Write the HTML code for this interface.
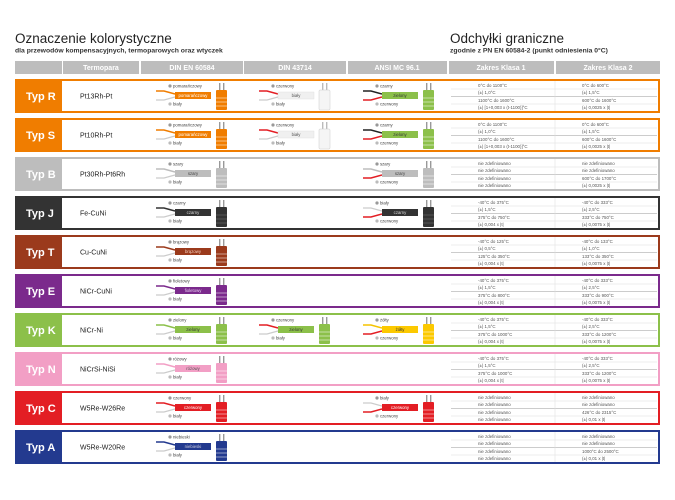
<!DOCTYPE html>
<html><head><meta charset="utf-8"><style>
body{margin:0;background:#fff}
svg{display:block;font-family:"Liberation Sans",sans-serif}
.s{font-size:4.3px;fill:#444}
.b{font-size:4.3px;text-anchor:middle}
.l{font-size:4.4px;fill:#555}
.t{font-size:11px;font-weight:bold;fill:#fff}
.p{font-size:7px;fill:#222}
.h{font-size:7px;font-weight:bold;fill:#fff;text-anchor:middle}
</style></head><body>
<svg width="675" height="500" viewBox="0 0 675 500" xmlns="http://www.w3.org/2000/svg">
<defs>
<g id="sep"><line x1="451" y1="10" x2="657" y2="10" stroke="#ddd" stroke-width="0.5"/><line x1="451" y1="17.5" x2="657" y2="17.5" stroke="#ccc" stroke-width="1"/><line x1="451" y1="25" x2="657" y2="25" stroke="#ddd" stroke-width="0.5"/><line x1="555" y1="2" x2="555" y2="32" stroke="#ddd" stroke-width="0.5"/></g>
</defs>
<text x="15" y="43" style="font-size:13.5px;fill:#222">Oznaczenie kolorystyczne</text>
<text x="15" y="52.5" style="font-size:6.8px;font-weight:bold;fill:#333">dla przewodów kompensacyjnych, termoparowych oraz wtyczek</text>
<text x="450" y="43" style="font-size:13.5px;fill:#222">Odchyłki graniczne</text>
<text x="450" y="52.5" style="font-size:6.8px;font-weight:bold;fill:#333">zgodnie z PN EN 60584-2 (punkt odniesienia 0°C)</text>
<g fill="#bdbdbd">
<rect x="15" y="61" width="47" height="13"/><rect x="63" y="61" width="76" height="13"/><rect x="141" y="61" width="102" height="13"/><rect x="244" y="61" width="102" height="13"/><rect x="348" y="61" width="99" height="13"/><rect x="449" y="61" width="105" height="13"/><rect x="556" y="61" width="104" height="13"/></g>
<text class="h" x="101" y="70">Termopara</text><text class="h" x="192" y="70">DIN EN 60584</text><text class="h" x="295" y="70">DIN 43714</text><text class="h" x="397" y="70">ANSI MC 96.1</text><text class="h" x="501" y="70">Zakres Klasa 1</text><text class="h" x="608" y="70">Zakres Klasa 2</text>

<g stroke-width="2" fill="none">
<rect x="16" y="80" width="643" height="32" stroke="#f07d00"/>
<rect x="16" y="119" width="643" height="32" stroke="#f07d00"/>
<rect x="16" y="158" width="643" height="32" stroke="#bdbdbd"/>
<rect x="16" y="197" width="643" height="32" stroke="#333"/>
<rect x="16" y="236" width="643" height="32" stroke="#9b3a1c"/>
<rect x="16" y="275" width="643" height="32" stroke="#7b2a8c"/>
<rect x="16" y="314" width="643" height="32" stroke="#8cc04a"/>
<rect x="16" y="353" width="643" height="32" stroke="#f29fc5"/>
<rect x="16" y="392" width="643" height="32" stroke="#e31e24"/>
<rect x="16" y="431" width="643" height="32" stroke="#233a8f"/>
</g>
<rect x="15" y="79" width="47" height="34" fill="#f07d00"/>
<rect x="15" y="118" width="47" height="34" fill="#f07d00"/>
<rect x="15" y="157" width="47" height="34" fill="#bdbdbd"/>
<rect x="15" y="196" width="47" height="34" fill="#333"/>
<rect x="15" y="235" width="47" height="34" fill="#9b3a1c"/>
<rect x="15" y="274" width="47" height="34" fill="#7b2a8c"/>
<rect x="15" y="313" width="47" height="34" fill="#8cc04a"/>
<rect x="15" y="352" width="47" height="34" fill="#f29fc5"/>
<rect x="15" y="391" width="47" height="34" fill="#e31e24"/>
<rect x="15" y="430" width="47" height="34" fill="#233a8f"/>
<g class="t">
<text x="26" y="100">Typ R</text><text x="26" y="139">Typ S</text><text x="26" y="178">Typ B</text><text x="26" y="217">Typ J</text><text x="26" y="256">Typ T</text><text x="26" y="295">Typ E</text><text x="26" y="334">Typ K</text><text x="26" y="373">Typ N</text><text x="26" y="412">Typ C</text><text x="26" y="451">Typ A</text></g>
<g class="p">
<text x="80" y="98.5">Pt13Rh-Pt</text><text x="80" y="137.5">Pt10Rh-Pt</text><text x="80" y="176.5">Pt30Rh-Pt6Rh</text><text x="80" y="215.5">Fe-CuNi</text><text x="80" y="254.5">Cu-CuNi</text><text x="80" y="293.5">NiCr-CuNi</text><text x="80" y="332.5">NiCr-Ni</text><text x="80" y="371.5">NiCrSi-NiSi</text><text x="80" y="410.5">W5Re-W26Re</text><text x="80" y="449.5">W5Re-W20Re</text></g>

<g transform="translate(0,79)"><use href="#sep"/><text class="l" x="478" y="8">0°C do 1100°C</text><text class="l" x="478" y="15">(±) 1,0°C</text><text class="l" x="478" y="23">1100°C do 1600°C</text><text class="l" x="478" y="30">(±) [1+0,003 x (t-1100)]°C</text><text class="l" x="582" y="8">0°C do 600°C</text><text class="l" x="582" y="15">(±) 1,5°C</text><text class="l" x="582" y="23">600°C do 1600°C</text><text class="l" x="582" y="30">(±) 0,0025 x |t|</text></g>
<g transform="translate(0,118)"><use href="#sep"/><text class="l" x="478" y="8">0°C do 1100°C</text><text class="l" x="478" y="15">(±) 1,0°C</text><text class="l" x="478" y="23">1100°C do 1600°C</text><text class="l" x="478" y="30">(±) [1+0,003 x (t-1100)]°C</text><text class="l" x="582" y="8">0°C do 600°C</text><text class="l" x="582" y="15">(±) 1,5°C</text><text class="l" x="582" y="23">600°C do 1600°C</text><text class="l" x="582" y="30">(±) 0,0025 x |t|</text></g>
<g transform="translate(0,157)"><use href="#sep"/><text class="l" x="478" y="8">nie zdefiniowano</text><text class="l" x="478" y="15">nie zdefiniowano</text><text class="l" x="478" y="23">nie zdefiniowano</text><text class="l" x="478" y="30">nie zdefiniowano</text><text class="l" x="582" y="8">nie zdefiniowano</text><text class="l" x="582" y="15">nie zdefiniowano</text><text class="l" x="582" y="23">600°C do 1700°C</text><text class="l" x="582" y="30">(±) 0,0025 x |t|</text></g>
<g transform="translate(0,196)"><use href="#sep"/><text class="l" x="478" y="8">-40°C do 375°C</text><text class="l" x="478" y="15">(±) 1,5°C</text><text class="l" x="478" y="23">375°C do 750°C</text><text class="l" x="478" y="30">(±) 0,004 x |t|</text><text class="l" x="582" y="8">-40°C do 333°C</text><text class="l" x="582" y="15">(±) 2,5°C</text><text class="l" x="582" y="23">333°C do 750°C</text><text class="l" x="582" y="30">(±) 0,0075 x |t|</text></g>
<g transform="translate(0,235)"><use href="#sep"/><text class="l" x="478" y="8">-40°C do 125°C</text><text class="l" x="478" y="15">(±) 0,5°C</text><text class="l" x="478" y="23">125°C do 350°C</text><text class="l" x="478" y="30">(±) 0,004 x |t|</text><text class="l" x="582" y="8">-40°C do 133°C</text><text class="l" x="582" y="15">(±) 1,0°C</text><text class="l" x="582" y="23">133°C do 350°C</text><text class="l" x="582" y="30">(±) 0,0075 x |t|</text></g>
<g transform="translate(0,274)"><use href="#sep"/><text class="l" x="478" y="8">-40°C do 375°C</text><text class="l" x="478" y="15">(±) 1,5°C</text><text class="l" x="478" y="23">375°C do 800°C</text><text class="l" x="478" y="30">(±) 0,004 x |t|</text><text class="l" x="582" y="8">-40°C do 333°C</text><text class="l" x="582" y="15">(±) 2,5°C</text><text class="l" x="582" y="23">333°C do 900°C</text><text class="l" x="582" y="30">(±) 0,0075 x |t|</text></g>
<g transform="translate(0,313)"><use href="#sep"/><text class="l" x="478" y="8">-40°C do 375°C</text><text class="l" x="478" y="15">(±) 1,5°C</text><text class="l" x="478" y="23">375°C do 1000°C</text><text class="l" x="478" y="30">(±) 0,004 x |t|</text><text class="l" x="582" y="8">-40°C do 333°C</text><text class="l" x="582" y="15">(±) 2,5°C</text><text class="l" x="582" y="23">333°C do 1200°C</text><text class="l" x="582" y="30">(±) 0,0075 x |t|</text></g>
<g transform="translate(0,352)"><use href="#sep"/><text class="l" x="478" y="8">-40°C do 375°C</text><text class="l" x="478" y="15">(±) 1,5°C</text><text class="l" x="478" y="23">375°C do 1000°C</text><text class="l" x="478" y="30">(±) 0,004 x |t|</text><text class="l" x="582" y="8">-40°C do 333°C</text><text class="l" x="582" y="15">(±) 2,5°C</text><text class="l" x="582" y="23">333°C do 1200°C</text><text class="l" x="582" y="30">(±) 0,0075 x |t|</text></g>
<g transform="translate(0,391)"><use href="#sep"/><text class="l" x="478" y="8">nie zdefiniowano</text><text class="l" x="478" y="15">nie zdefiniowano</text><text class="l" x="478" y="23">nie zdefiniowano</text><text class="l" x="478" y="30">nie zdefiniowano</text><text class="l" x="582" y="8">nie zdefiniowano</text><text class="l" x="582" y="15">nie zdefiniowano</text><text class="l" x="582" y="23">426°C do 2315°C</text><text class="l" x="582" y="30">(±) 0,01 x |t|</text></g>
<g transform="translate(0,430)"><use href="#sep"/><text class="l" x="478" y="8">nie zdefiniowano</text><text class="l" x="478" y="15">nie zdefiniowano</text><text class="l" x="478" y="23">nie zdefiniowano</text><text class="l" x="478" y="30">nie zdefiniowano</text><text class="l" x="582" y="8">nie zdefiniowano</text><text class="l" x="582" y="15">nie zdefiniowano</text><text class="l" x="582" y="23">1000°C do 2500°C</text><text class="l" x="582" y="30">(±) 0,01 x |t|</text></g>

<g transform="translate(156,79)"><path d="M0,12 L8,12 L19,15" stroke="#f07d00" stroke-width="1.5" fill="none"/><path d="M0,21 L8,21 L19,18" stroke="#ccc" stroke-width="1.2" fill="none"/><circle cx="14" cy="7" r="1.6" fill="#999"/><text class="s" x="17" y="8.5">pomarańczowy</text><circle cx="14" cy="25" r="1.6" fill="#bbb"/><text class="s" x="17" y="26.5">biały</text><rect x="19" y="13" width="36" height="7" fill="#f07d00"/><text class="b" x="37" y="18" fill="#fff">pomarańczowy</text><rect x="63" y="4" width="1.4" height="8" fill="#999"/><rect x="67" y="4" width="1.4" height="8" fill="#999"/><rect x="60" y="11" width="11" height="20" rx="1" fill="#f07d00"/><path d="M60,19h11M60,23h11M60,27h11" stroke="#fff" stroke-width="0.6"/></g>
<g transform="translate(259,79)"><path d="M0,12 L8,12 L19,15" stroke="#e31e24" stroke-width="1.5" fill="none"/><path d="M0,21 L8,21 L19,18" stroke="#ccc" stroke-width="1.2" fill="none"/><circle cx="14" cy="7" r="1.6" fill="#999"/><text class="s" x="17" y="8.5">czerwony</text><circle cx="14" cy="25" r="1.6" fill="#bbb"/><text class="s" x="17" y="26.5">biały</text><rect x="19" y="13" width="36" height="7" fill="#f0f0f0" stroke="#ddd" stroke-width="0.4"/><text class="b" x="37" y="18" fill="#555">biały</text><rect x="63" y="4" width="1.4" height="8" fill="#bbb"/><rect x="67" y="4" width="1.4" height="8" fill="#bbb"/><rect x="60" y="11" width="11" height="20" rx="1" fill="#f5f5f5" stroke="#ccc" stroke-width="0.5"/></g>
<g transform="translate(363,79)"><path d="M0,12 L8,12 L19,15" stroke="#222" stroke-width="1.5" fill="none"/><path d="M0,21 L8,21 L19,18" stroke="#e31e24" stroke-width="1.5" fill="none"/><circle cx="14" cy="7" r="1.6" fill="#999"/><text class="s" x="17" y="8.5">czarny</text><circle cx="14" cy="25" r="1.6" fill="#bbb"/><text class="s" x="17" y="26.5">czerwony</text><rect x="19" y="13" width="36" height="7" fill="#8cc04a"/><text class="b" x="37" y="18" fill="#333">zielony</text><rect x="63" y="4" width="1.4" height="8" fill="#999"/><rect x="67" y="4" width="1.4" height="8" fill="#999"/><rect x="60" y="11" width="11" height="20" rx="1" fill="#8cc04a"/><path d="M60,19h11M60,23h11M60,27h11" stroke="#fff" stroke-width="0.6"/></g>
<g transform="translate(156,118)"><path d="M0,12 L8,12 L19,15" stroke="#f07d00" stroke-width="1.5" fill="none"/><path d="M0,21 L8,21 L19,18" stroke="#ccc" stroke-width="1.2" fill="none"/><circle cx="14" cy="7" r="1.6" fill="#999"/><text class="s" x="17" y="8.5">pomarańczowy</text><circle cx="14" cy="25" r="1.6" fill="#bbb"/><text class="s" x="17" y="26.5">biały</text><rect x="19" y="13" width="36" height="7" fill="#f07d00"/><text class="b" x="37" y="18" fill="#fff">pomarańczowy</text><rect x="63" y="4" width="1.4" height="8" fill="#999"/><rect x="67" y="4" width="1.4" height="8" fill="#999"/><rect x="60" y="11" width="11" height="20" rx="1" fill="#f07d00"/><path d="M60,19h11M60,23h11M60,27h11" stroke="#fff" stroke-width="0.6"/></g>
<g transform="translate(259,118)"><path d="M0,12 L8,12 L19,15" stroke="#e31e24" stroke-width="1.5" fill="none"/><path d="M0,21 L8,21 L19,18" stroke="#ccc" stroke-width="1.2" fill="none"/><circle cx="14" cy="7" r="1.6" fill="#999"/><text class="s" x="17" y="8.5">czerwony</text><circle cx="14" cy="25" r="1.6" fill="#bbb"/><text class="s" x="17" y="26.5">biały</text><rect x="19" y="13" width="36" height="7" fill="#f0f0f0" stroke="#ddd" stroke-width="0.4"/><text class="b" x="37" y="18" fill="#555">biały</text><rect x="63" y="4" width="1.4" height="8" fill="#bbb"/><rect x="67" y="4" width="1.4" height="8" fill="#bbb"/><rect x="60" y="11" width="11" height="20" rx="1" fill="#f5f5f5" stroke="#ccc" stroke-width="0.5"/></g>
<g transform="translate(363,118)"><path d="M0,12 L8,12 L19,15" stroke="#222" stroke-width="1.5" fill="none"/><path d="M0,21 L8,21 L19,18" stroke="#e31e24" stroke-width="1.5" fill="none"/><circle cx="14" cy="7" r="1.6" fill="#999"/><text class="s" x="17" y="8.5">czarny</text><circle cx="14" cy="25" r="1.6" fill="#bbb"/><text class="s" x="17" y="26.5">czerwony</text><rect x="19" y="13" width="36" height="7" fill="#8cc04a"/><text class="b" x="37" y="18" fill="#333">zielony</text><rect x="63" y="4" width="1.4" height="8" fill="#999"/><rect x="67" y="4" width="1.4" height="8" fill="#999"/><rect x="60" y="11" width="11" height="20" rx="1" fill="#8cc04a"/><path d="M60,19h11M60,23h11M60,27h11" stroke="#fff" stroke-width="0.6"/></g>
<g transform="translate(156,157)"><path d="M0,12 L8,12 L19,15" stroke="#bdbdbd" stroke-width="1.5" fill="none"/><path d="M0,21 L8,21 L19,18" stroke="#ccc" stroke-width="1.2" fill="none"/><circle cx="14" cy="7" r="1.6" fill="#999"/><text class="s" x="17" y="8.5">szary</text><circle cx="14" cy="25" r="1.6" fill="#bbb"/><text class="s" x="17" y="26.5">biały</text><rect x="19" y="13" width="36" height="7" fill="#bdbdbd"/><text class="b" x="37" y="18" fill="#444">szary</text><rect x="63" y="4" width="1.4" height="8" fill="#999"/><rect x="67" y="4" width="1.4" height="8" fill="#999"/><rect x="60" y="11" width="11" height="20" rx="1" fill="#bdbdbd"/><path d="M60,19h11M60,23h11M60,27h11" stroke="#fff" stroke-width="0.6"/></g>
<g transform="translate(363,157)"><path d="M0,12 L8,12 L19,15" stroke="#bdbdbd" stroke-width="1.5" fill="none"/><path d="M0,21 L8,21 L19,18" stroke="#e31e24" stroke-width="1.5" fill="none"/><circle cx="14" cy="7" r="1.6" fill="#999"/><text class="s" x="17" y="8.5">szary</text><circle cx="14" cy="25" r="1.6" fill="#bbb"/><text class="s" x="17" y="26.5">czerwony</text><rect x="19" y="13" width="36" height="7" fill="#bdbdbd"/><text class="b" x="37" y="18" fill="#444">szary</text><rect x="63" y="4" width="1.4" height="8" fill="#999"/><rect x="67" y="4" width="1.4" height="8" fill="#999"/><rect x="60" y="11" width="11" height="20" rx="1" fill="#bdbdbd"/><path d="M60,19h11M60,23h11M60,27h11" stroke="#fff" stroke-width="0.6"/></g>
<g transform="translate(156,196)"><path d="M0,12 L8,12 L19,15" stroke="#333" stroke-width="1.5" fill="none"/><path d="M0,21 L8,21 L19,18" stroke="#ccc" stroke-width="1.2" fill="none"/><circle cx="14" cy="7" r="1.6" fill="#999"/><text class="s" x="17" y="8.5">czarny</text><circle cx="14" cy="25" r="1.6" fill="#bbb"/><text class="s" x="17" y="26.5">biały</text><rect x="19" y="13" width="36" height="7" fill="#333"/><text class="b" x="37" y="18" fill="#ddd">czarny</text><rect x="63" y="4" width="1.4" height="8" fill="#999"/><rect x="67" y="4" width="1.4" height="8" fill="#999"/><rect x="60" y="11" width="11" height="20" rx="1" fill="#333"/><path d="M60,19h11M60,23h11M60,27h11" stroke="#777" stroke-width="0.6"/></g>
<g transform="translate(363,196)"><path d="M0,12 L8,12 L19,15" stroke="#ccc" stroke-width="1.2" fill="none"/><path d="M0,21 L8,21 L19,18" stroke="#e31e24" stroke-width="1.5" fill="none"/><circle cx="14" cy="7" r="1.6" fill="#999"/><text class="s" x="17" y="8.5">biały</text><circle cx="14" cy="25" r="1.6" fill="#bbb"/><text class="s" x="17" y="26.5">czerwony</text><rect x="19" y="13" width="36" height="7" fill="#333"/><text class="b" x="37" y="18" fill="#ddd">czarny</text><rect x="63" y="4" width="1.4" height="8" fill="#999"/><rect x="67" y="4" width="1.4" height="8" fill="#999"/><rect x="60" y="11" width="11" height="20" rx="1" fill="#333"/><path d="M60,19h11M60,23h11M60,27h11" stroke="#777" stroke-width="0.6"/></g>
<g transform="translate(156,235)"><path d="M0,12 L8,12 L19,15" stroke="#9b3a1c" stroke-width="1.5" fill="none"/><path d="M0,21 L8,21 L19,18" stroke="#ccc" stroke-width="1.2" fill="none"/><circle cx="14" cy="7" r="1.6" fill="#999"/><text class="s" x="17" y="8.5">brązowy</text><circle cx="14" cy="25" r="1.6" fill="#bbb"/><text class="s" x="17" y="26.5">biały</text><rect x="19" y="13" width="36" height="7" fill="#9b3a1c"/><text class="b" x="37" y="18" fill="#f3d0c0">brązowy</text><rect x="63" y="4" width="1.4" height="8" fill="#999"/><rect x="67" y="4" width="1.4" height="8" fill="#999"/><rect x="60" y="11" width="11" height="20" rx="1" fill="#9b3a1c"/><path d="M60,19h11M60,23h11M60,27h11" stroke="#fff" stroke-width="0.6"/></g>
<g transform="translate(156,274)"><path d="M0,12 L8,12 L19,15" stroke="#7b2a8c" stroke-width="1.5" fill="none"/><path d="M0,21 L8,21 L19,18" stroke="#ccc" stroke-width="1.2" fill="none"/><circle cx="14" cy="7" r="1.6" fill="#999"/><text class="s" x="17" y="8.5">fioletowy</text><circle cx="14" cy="25" r="1.6" fill="#bbb"/><text class="s" x="17" y="26.5">biały</text><rect x="19" y="13" width="36" height="7" fill="#7b2a8c"/><text class="b" x="37" y="18" fill="#e8d0f0">fioletowy</text><rect x="63" y="4" width="1.4" height="8" fill="#999"/><rect x="67" y="4" width="1.4" height="8" fill="#999"/><rect x="60" y="11" width="11" height="20" rx="1" fill="#7b2a8c"/><path d="M60,19h11M60,23h11M60,27h11" stroke="#fff" stroke-width="0.6"/></g>
<g transform="translate(156,313)"><path d="M0,12 L8,12 L19,15" stroke="#8cc04a" stroke-width="1.5" fill="none"/><path d="M0,21 L8,21 L19,18" stroke="#ccc" stroke-width="1.2" fill="none"/><circle cx="14" cy="7" r="1.6" fill="#999"/><text class="s" x="17" y="8.5">zielony</text><circle cx="14" cy="25" r="1.6" fill="#bbb"/><text class="s" x="17" y="26.5">biały</text><rect x="19" y="13" width="36" height="7" fill="#8cc04a"/><text class="b" x="37" y="18" fill="#333">zielony</text><rect x="63" y="4" width="1.4" height="8" fill="#999"/><rect x="67" y="4" width="1.4" height="8" fill="#999"/><rect x="60" y="11" width="11" height="20" rx="1" fill="#8cc04a"/><path d="M60,19h11M60,23h11M60,27h11" stroke="#fff" stroke-width="0.6"/></g>
<g transform="translate(259,313)"><path d="M0,12 L8,12 L19,15" stroke="#e31e24" stroke-width="1.5" fill="none"/><path d="M0,21 L8,21 L19,18" stroke="#ccc" stroke-width="1.2" fill="none"/><circle cx="14" cy="7" r="1.6" fill="#999"/><text class="s" x="17" y="8.5">czerwony</text><circle cx="14" cy="25" r="1.6" fill="#bbb"/><text class="s" x="17" y="26.5">biały</text><rect x="19" y="13" width="36" height="7" fill="#8cc04a"/><text class="b" x="37" y="18" fill="#333">zielony</text><rect x="63" y="4" width="1.4" height="8" fill="#999"/><rect x="67" y="4" width="1.4" height="8" fill="#999"/><rect x="60" y="11" width="11" height="20" rx="1" fill="#8cc04a"/><path d="M60,19h11M60,23h11M60,27h11" stroke="#fff" stroke-width="0.6"/></g>
<g transform="translate(363,313)"><path d="M0,12 L8,12 L19,15" stroke="#f5c400" stroke-width="1.5" fill="none"/><path d="M0,21 L8,21 L19,18" stroke="#e31e24" stroke-width="1.5" fill="none"/><circle cx="14" cy="7" r="1.6" fill="#999"/><text class="s" x="17" y="8.5">żółty</text><circle cx="14" cy="25" r="1.6" fill="#bbb"/><text class="s" x="17" y="26.5">czerwony</text><rect x="19" y="13" width="36" height="7" fill="#fcc900"/><text class="b" x="37" y="18" fill="#333">żółty</text><rect x="63" y="4" width="1.4" height="8" fill="#999"/><rect x="67" y="4" width="1.4" height="8" fill="#999"/><rect x="60" y="11" width="11" height="20" rx="1" fill="#fcc900"/><path d="M60,19h11M60,23h11M60,27h11" stroke="#fff" stroke-width="0.6"/></g>
<g transform="translate(156,352)"><path d="M0,12 L8,12 L19,15" stroke="#f29fc5" stroke-width="1.5" fill="none"/><path d="M0,21 L8,21 L19,18" stroke="#ccc" stroke-width="1.2" fill="none"/><circle cx="14" cy="7" r="1.6" fill="#999"/><text class="s" x="17" y="8.5">różowy</text><circle cx="14" cy="25" r="1.6" fill="#bbb"/><text class="s" x="17" y="26.5">biały</text><rect x="19" y="13" width="36" height="7" fill="#f29fc5"/><text class="b" x="37" y="18" fill="#555">różowy</text><rect x="63" y="4" width="1.4" height="8" fill="#999"/><rect x="67" y="4" width="1.4" height="8" fill="#999"/><rect x="60" y="11" width="11" height="20" rx="1" fill="#f29fc5"/><path d="M60,19h11M60,23h11M60,27h11" stroke="#fff" stroke-width="0.6"/></g>
<g transform="translate(156,391)"><path d="M0,12 L8,12 L19,15" stroke="#e31e24" stroke-width="1.5" fill="none"/><path d="M0,21 L8,21 L19,18" stroke="#ccc" stroke-width="1.2" fill="none"/><circle cx="14" cy="7" r="1.6" fill="#999"/><text class="s" x="17" y="8.5">czerwony</text><circle cx="14" cy="25" r="1.6" fill="#bbb"/><text class="s" x="17" y="26.5">biały</text><rect x="19" y="13" width="36" height="7" fill="#e31e24"/><text class="b" x="37" y="18" fill="#fff">czerwony</text><rect x="63" y="4" width="1.4" height="8" fill="#999"/><rect x="67" y="4" width="1.4" height="8" fill="#999"/><rect x="60" y="11" width="11" height="20" rx="1" fill="#e31e24"/><path d="M60,19h11M60,23h11M60,27h11" stroke="#fff" stroke-width="0.6"/></g>
<g transform="translate(363,391)"><path d="M0,12 L8,12 L19,15" stroke="#ccc" stroke-width="1.2" fill="none"/><path d="M0,21 L8,21 L19,18" stroke="#e31e24" stroke-width="1.5" fill="none"/><circle cx="14" cy="7" r="1.6" fill="#999"/><text class="s" x="17" y="8.5">biały</text><circle cx="14" cy="25" r="1.6" fill="#bbb"/><text class="s" x="17" y="26.5">czerwony</text><rect x="19" y="13" width="36" height="7" fill="#e31e24"/><text class="b" x="37" y="18" fill="#fff">czerwony</text><rect x="63" y="4" width="1.4" height="8" fill="#999"/><rect x="67" y="4" width="1.4" height="8" fill="#999"/><rect x="60" y="11" width="11" height="20" rx="1" fill="#e31e24"/><path d="M60,19h11M60,23h11M60,27h11" stroke="#fff" stroke-width="0.6"/></g>
<g transform="translate(156,430)"><path d="M0,12 L8,12 L19,15" stroke="#233a8f" stroke-width="1.5" fill="none"/><path d="M0,21 L8,21 L19,18" stroke="#ccc" stroke-width="1.2" fill="none"/><circle cx="14" cy="7" r="1.6" fill="#999"/><text class="s" x="17" y="8.5">niebieski</text><circle cx="14" cy="25" r="1.6" fill="#bbb"/><text class="s" x="17" y="26.5">biały</text><rect x="19" y="13" width="36" height="7" fill="#233a8f"/><text class="b" x="37" y="18" fill="#ccd">niebieski</text><rect x="63" y="4" width="1.4" height="8" fill="#999"/><rect x="67" y="4" width="1.4" height="8" fill="#999"/><rect x="60" y="11" width="11" height="20" rx="1" fill="#233a8f"/><path d="M60,19h11M60,23h11M60,27h11" stroke="#fff" stroke-width="0.6"/></g>
</svg>
</body></html>
